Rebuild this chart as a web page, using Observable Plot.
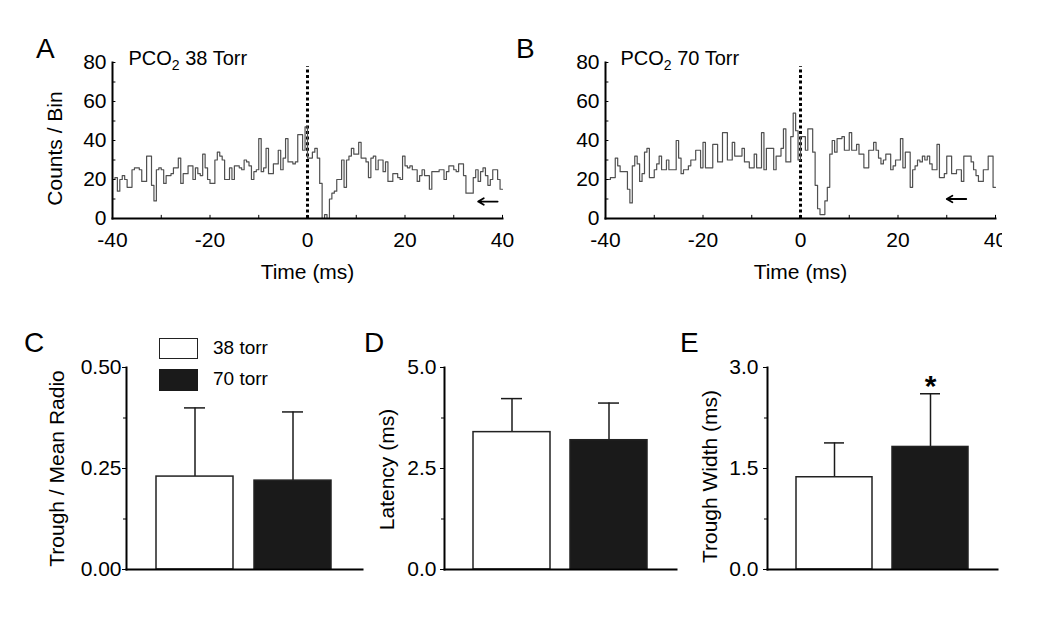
<!DOCTYPE html>
<html><head><meta charset="utf-8">
<script src="https://cdn.jsdelivr.net/npm/d3@7"></script>
<script src="https://cdn.jsdelivr.net/npm/@observablehq/plot@0.6"></script>
<style>
body{margin:0;background:#fff;}
#fig{position:relative;width:1050px;height:618px;overflow:hidden;font-family:"Liberation Sans",Arial,sans-serif;color:#000;}
#fig .pane{position:absolute;}
#fig .letter{position:absolute;font-size:28px;line-height:28px;}
#fig .sw{position:absolute;box-sizing:border-box;border:1.5px solid #222;}
#fig .lt{position:absolute;font-size:19px;line-height:19px;}
</style></head><body><div id="fig"></div>
<script>
// ---------- data ----------
const binStart = -40, binWidth = 0.5;
const timeDomain = [-40, 40];
const timeTicks = [-40, -20, 0, 20, 40];
const timeMinor = [-30, -20, -10, 0, 10, 20, 30, 40];
const countDomain = [0, 80];
const countTicks = [0, 20, 40, 60, 80];
const countMinor = [10, 20, 30, 40, 50, 60, 70, 80];

const counts38 = [
  20, 21, 14, 20, 22, 20, 16, 16, 25, 26,
  26, 25, 19, 19, 32, 32, 17, 9, 25, 26,
  25, 18, 22, 22, 23, 26, 26, 31, 18, 23,
  23, 27, 27, 20, 26, 23, 22, 33, 26, 20,
  18, 18, 30, 34, 32, 30, 20, 20, 26, 20,
  27, 27, 26, 25, 30, 29, 27, 20, 24, 25,
  41, 24, 26, 36, 23, 23, 28, 28, 35, 25,
  31, 41, 29, 29, 28, 29, 43, 43, 35, 47,
  31, 31, 34, 36, 31, 18, 0, 2, 0, 10,
  13, 14, 20, 20, 30, 16, 30, 32, 36, 33,
  33, 39, 31, 31, 29, 21, 31, 32, 25, 30,
  30, 24, 29, 19, 19, 23, 23, 21, 20, 32,
  27, 26, 27, 25, 25, 19, 22, 25, 22, 22,
  15, 24, 24, 24, 25, 25, 20, 24, 27, 27,
  25, 24, 28, 28, 22, 13, 13, 13, 21, 25,
  19, 24, 26, 22, 17, 20, 25, 25, 20, 15
];
const counts70 = [
  20, 20, 21, 21, 31, 27, 24, 24, 24, 15,
  8, 27, 32, 28, 19, 23, 34, 36, 21, 21,
  25, 28, 32, 25, 25, 30, 25, 25, 25, 40,
  31, 23, 25, 25, 27, 30, 30, 35, 35, 26,
  39, 26, 26, 26, 38, 38, 29, 29, 44, 44,
  30, 30, 39, 32, 32, 32, 36, 29, 29, 26,
  26, 33, 26, 26, 44, 25, 36, 36, 36, 25,
  32, 32, 36, 46, 29, 29, 42, 54, 45, 30,
  42, 42, 35, 46, 46, 34, 17, 5, 2, 2,
  9, 16, 33, 40, 34, 41, 41, 42, 35, 35,
  44, 35, 35, 38, 33, 33, 26, 26, 35, 35,
  39, 35, 31, 28, 30, 33, 33, 25, 27, 30,
  30, 41, 26, 34, 34, 16, 25, 27, 30, 29,
  32, 30, 32, 28, 25, 25, 38, 21, 21, 23,
  32, 32, 23, 23, 25, 25, 19, 32, 32, 32,
  29, 25, 22, 19, 19, 25, 25, 32, 32, 16
];
const arrow38 = [{x1: 39, x2: 35, y: 8.7}];
const arrow70 = [{x1: 34, x2: 30, y: 10}];
const titles = ["PCO₂ 38 Torr", "PCO₂ 70 Torr"];

const groups = ["38 torr", "70 torr"];
const barFills = ["#ffffff", "#1a1a1a"];
const troughMean = [0.23, 0.22], troughSD = [0.17, 0.17];
const latencyMean = [3.4, 3.2], latencySD = [0.83, 0.92];
const widthMean = [1.37, 1.82], widthSD = [0.51, 0.79];
const widthStar = [false, true];

// ---------- helpers ----------
const FONT = "Liberation Sans, Arial, sans-serif";
const fig = document.getElementById("fig");
function place(el, left, top) {
  const d = document.createElement("div");
  d.className = "pane"; d.style.left = left + "px"; d.style.top = top + "px";
  d.appendChild(el); fig.appendChild(d);
}
function addDiv(cls, left, top, text, extra) {
  const d = document.createElement("div");
  d.className = cls; d.style.left = left + "px"; d.style.top = top + "px";
  if (text) d.textContent = text;
  Object.assign(d.style, extra || {});
  fig.appendChild(d);
}

function histPanel({counts, title, titleDx, arrow, yLabel, marginRight, overflow}) {
  const rows = counts.map((c, i) => ({t: binStart + i * binWidth, c}));
  rows.push({t: binStart + counts.length * binWidth, c: counts[counts.length - 1]});
  const marks = [
    Plot.ruleX([0], {y1: countDomain[0], y2: countDomain[1] - 2, stroke: "#000", strokeWidth: 3, strokeDasharray: "3,2.6"}),
    Plot.line(rows, {x: "t", y: "c", curve: "step-after", stroke: "#505050", strokeWidth: 1.2}),
    Plot.arrow(arrow, {x1: "x1", y1: "y", x2: "x2", y2: "y", stroke: "#000", strokeWidth: 1.8, headLength: 7}),
    Plot.ruleX(timeMinor, {x: d => d, y1: countDomain[0], y2: countDomain[0] + 1.6, stroke: "#000", strokeWidth: 1}),
    Plot.ruleY(countMinor, {y: d => d, x1: timeDomain[0], x2: timeDomain[0] + 0.7, stroke: "#000", strokeWidth: 1}),
    Plot.frame({anchor: "left", stroke: "#000", strokeWidth: 2}),
    Plot.frame({anchor: "bottom", stroke: "#000", strokeWidth: 2}),
    Plot.axisX({ticks: timeTicks, tickFormat: d => String(d), tickSize: 0, tickPadding: 14, fontSize: 21, label: null}),
    Plot.axisY({ticks: countTicks, tickFormat: d => String(d), tickSize: 0, tickPadding: 6, fontSize: 21, label: null}),
    Plot.text([title], {text: d => d, frameAnchor: "top-left", dx: titleDx, dy: -4, textAnchor: "start", lineAnchor: "middle", fontSize: 20}),
    Plot.text(["Time (ms)"], {text: d => d, frameAnchor: "bottom", dy: 54, textAnchor: "middle", lineAnchor: "middle", fontSize: 21})
  ];
  if (yLabel) marks.push(Plot.text([yLabel], {text: d => d, frameAnchor: "left", rotate: -90, dx: -57, dy: 8, textAnchor: "middle", lineAnchor: "middle", fontSize: 21}));
  const svg = Plot.plot({
    width: 112 + 390 + marginRight, height: 270,
    marginLeft: 112, marginRight, marginTop: 22, marginBottom: 92,
    x: {domain: timeDomain, label: null}, y: {domain: countDomain, label: null},
    style: {fontFamily: FONT, fontSize: "21px", background: "none", overflow, maxWidth: "none", color: "#000"},
    marks
  });
  d3.select(svg).selectAll("text").filter(function () { return this.textContent.startsWith("PCO"); }).each(function () {
    const rest = this.textContent.slice(4);
    const s = d3.select(this);
    s.text(null);
    s.append("tspan").text("PCO");
    s.append("tspan").attr("font-size", 14).attr("dy", 5).text("2");
    s.append("tspan").attr("dy", -5).text(rest);
  });
  return svg;
}

function barPanel({width, marginLeft, marginRight, means, sds, stars, yDomain, yTicks, yMinor, fmt, tickPadding, yLabel, labelDx, labelDy}) {
  const rows = groups.map((g, i) => ({g, m: means[i], s: sds[i], star: stars ? stars[i] : false}));
  return Plot.plot({
    width, height: 280, marginLeft, marginRight, marginTop: 47, marginBottom: 31,
    x: {type: "band", domain: groups, paddingInner: 0.21, paddingOuter: 0.3, axis: null, label: null},
    y: {domain: yDomain, label: null},
    color: {domain: groups, range: barFills},
    style: {fontFamily: FONT, fontSize: "21px", background: "none", overflow: "visible", maxWidth: "none", color: "#000"},
    marks: [
      Plot.ruleX(rows, {x: "g", y1: "m", y2: d => d.m + d.s, stroke: "#1a1a1a", strokeWidth: 1.5}),
      Plot.tickY(rows, {x: "g", y: d => d.m + d.s, insetLeft: 28, insetRight: 28, stroke: "#1a1a1a", strokeWidth: 1.5}),
      Plot.barY(rows, {x: "g", y: "m", fill: "g", stroke: "#222", strokeWidth: 1.5}),
      Plot.frame({anchor: "left", stroke: "#000", strokeWidth: 2}),
      Plot.frame({anchor: "bottom", stroke: "#000", strokeWidth: 2}),
      Plot.axisY({ticks: yTicks, tickFormat: fmt, tickSize: 4, tickPadding, fontSize: 21, label: null}),
      Plot.axisY({ticks: yMinor, tickFormat: () => "", tickSize: 3, label: null}),
      Plot.text(rows.filter(d => d.star), {x: "g", y: d => d.m + d.s, text: () => "*", fontSize: 30, fontWeight: "bold", lineAnchor: "middle", dy: -7}),
      Plot.text([yLabel], {text: d => d, frameAnchor: "left", rotate: -90, dx: labelDx, dy: labelDy, textAnchor: "middle", lineAnchor: "middle", fontSize: 21})
    ]
  });
}

// ---------- panels ----------
place(histPanel({counts: counts38, title: titles[0], titleDx: 16, arrow: arrow38, yLabel: "Counts / Bin", marginRight: 23, overflow: "visible"}), 0, 40);
place(histPanel({counts: counts70, title: titles[1], titleDx: 15, arrow: arrow70, yLabel: null, marginRight: 7, overflow: "hidden"}), 493, 40);

place(barPanel({width: 375, marginLeft: 126, marginRight: 13, means: troughMean, sds: troughSD,
  yDomain: [0, 0.5], yTicks: [0, 0.25, 0.5], yMinor: [0.125, 0.375], fmt: d3.format(".2f"), tickPadding: 1,
  yLabel: "Trough / Mean Radio", labelDx: -69, labelDy: 0}), 0, 320);
place(barPanel({width: 340, marginLeft: 94, marginRight: 14, means: latencyMean, sds: latencySD,
  yDomain: [0, 5], yTicks: [0, 2.5, 5], yMinor: [1.25, 3.75], fmt: d3.format(".1f"), tickPadding: 4,
  yLabel: "Latency (ms)", labelDx: -57, labelDy: 1}), 350, 320);
place(barPanel({width: 340, marginLeft: 77, marginRight: 33, means: widthMean, sds: widthSD, stars: widthStar,
  yDomain: [0, 3], yTicks: [0, 1.5, 3], yMinor: [0.75, 2.25], fmt: d3.format(".1f"), tickPadding: 5,
  yLabel: "Trough Width (ms)", labelDx: -57, labelDy: 8}), 690, 320);

// ---------- panel letters ----------
addDiv("letter", 36, 35, "A");
addDiv("letter", 516, 35, "B");
addDiv("letter", 24, 329, "C");
addDiv("letter", 364, 329, "D");
addDiv("letter", 680, 329, "E");

// ---------- legend (panel C) ----------
addDiv("sw", 159, 338, "", {width: "39px", height: "21px", background: barFills[0]});
addDiv("sw", 159, 369, "", {width: "39px", height: "22px", background: barFills[1], borderColor: barFills[1]});
addDiv("lt", 213, 338, groups[0]);
addDiv("lt", 213, 369, groups[1]);
</script></body></html>
